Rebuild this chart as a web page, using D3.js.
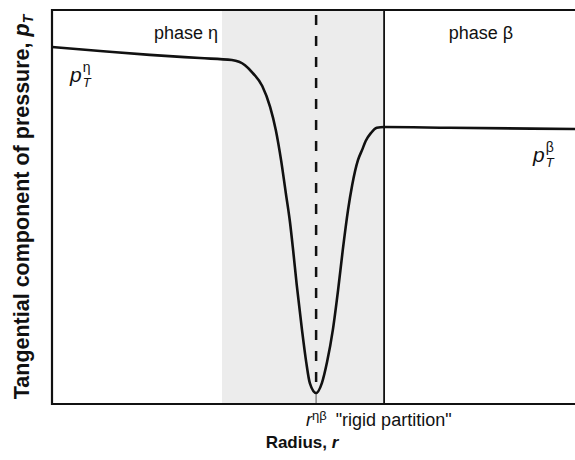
<!doctype html>
<html lang="en">
<head>
    <meta charset="utf-8">
    <title>Tangential pressure across a rigid partition</title>
    <style>
        body { margin: 0; background: #fff; }
        svg text { font-family: "Liberation Sans", Arial, sans-serif; fill: #111; }
    </style>
</head>
<body>
    <div id="chart"></div>
    <script src="https://d3js.org/d3.v7.min.js"></script>
    <script>
        // radius (arbitrary units, 0..100) and tangential pressure (0..100)
        var radius = [0, 9.2, 18.7, 28.3, 34.4, 36.9, 38.4, 40.2, 41.7, 42.8, 43.8, 44.7, 45.5, 46.1, 46.8, 47.8, 48.6, 49.3, 50.5,
            51.6, 52.6, 53.7, 54.7, 55.6, 56.6, 57.4, 58.5, 59.3, 60.0, 61.0, 62.1, 63.5, 76.1, 100];
        var pressure = [90.6, 89.6, 88.6, 87.8, 87.3, 86.0, 84.0, 80.7, 75.4, 69.5, 61.9, 53.6, 46.2, 39.1, 30.2, 18.8, 10.7, 5.3, 2.8,
            5.3, 10.7, 18.8, 28.9, 39.1, 49.2, 55.6, 61.9, 64.5, 66.8, 68.8, 70.1, 70.3, 70.1, 69.8];

        var interfaceStart = 32.5;   // start of the shaded interfacial zone
        var partition = 63.5;        // rigid partition (solid line)
        var rEtaBeta = 50.5;         // dividing surface r^ηβ (dashed)

        var width = 575, height = 460;
        var margin = {top: 10, right: 0, bottom: 56, left: 52};

        var svg = d3.select("#chart").append("svg")
            .attr("width", width)
            .attr("height", height);

        var x = d3.scaleLinear().domain([0, 100]).range([margin.left, width - margin.right]);
        var y = d3.scaleLinear().domain([0, 100]).range([height - margin.bottom, margin.top]);

        // shaded zone
        svg.append("rect")
            .attr("x", x(interfaceStart))
            .attr("y", y(100))
            .attr("width", x(partition) - x(interfaceStart))
            .attr("height", y(0) - y(100))
            .attr("fill", "#ececec");

        // dashed dividing surface
        svg.append("line")
            .attr("x1", x(rEtaBeta)).attr("x2", x(rEtaBeta))
            .attr("y1", y(100)).attr("y2", y(d3.min(pressure)) - 4)
            .attr("stroke", "#111")
            .attr("stroke-width", 2.5)
            .attr("stroke-dasharray", "10,11")
            .attr("stroke-dashoffset", -5);

        // thin stub below the minimum
        svg.append("line")
            .attr("x1", x(rEtaBeta)).attr("x2", x(rEtaBeta))
            .attr("y1", y(d3.min(pressure))).attr("y2", y(0))
            .attr("stroke", "#888")
            .attr("stroke-width", 1.5);

        // rigid partition
        svg.append("line")
            .attr("x1", x(partition)).attr("x2", x(partition))
            .attr("y1", y(100)).attr("y2", y(0))
            .attr("stroke", "#111")
            .attr("stroke-width", 1.8);

        // frame: left, top and bottom
        svg.append("path")
            .attr("d", "M" + x(100) + "," + y(100) + "H" + x(0) + "V" + y(0) + "H" + x(100))
            .attr("fill", "none")
            .attr("stroke", "#111")
            .attr("stroke-width", 2.2);

        // pressure profile
        var line = d3.line()
            .x(function(d, i) { return x(radius[i]); })
            .y(function(d) { return y(d); })
            .curve(d3.curveMonotoneX);

        svg.append("path")
            .datum(pressure)
            .attr("d", line)
            .attr("fill", "none")
            .attr("stroke", "#111")
            .attr("stroke-width", 2.6);

        // phase labels
        svg.append("text").attr("x", 186).attr("y", 39)
            .attr("text-anchor", "middle").style("font-size", "18px").text("phase η");
        svg.append("text").attr("x", 481).attr("y", 39)
            .attr("text-anchor", "middle").style("font-size", "18px").text("phase β");

        // p_T labels
        function pLabel(px, py, sup) {
            var t = svg.append("text").attr("x", px).attr("y", py).style("font-size", "21px");
            t.append("tspan").style("font-style", "italic").text("p");
            t.append("tspan").attr("dx", 1).attr("dy", 5).style("font-size", "13px").style("font-style", "italic").text("T");
            t.append("tspan").attr("dx", -8).attr("dy", -15).style("font-size", "14px").text(sup);
        }
        pLabel(70, 82, "η");
        pLabel(533, 162, "β");

        // r^ηβ "rigid partition"
        var rl = svg.append("text").attr("x", 306).attr("y", 426).style("font-size", "18px");
        rl.append("tspan").style("font-style", "italic").text("r");
        rl.append("tspan").attr("dy", -6).style("font-size", "13px").text("ηβ");
        rl.append("tspan").attr("dx", 9).attr("dy", 6).text("\"rigid partition\"");

        // axis titles
        var xt = svg.append("text").attr("x", 302).attr("y", 448)
            .attr("text-anchor", "middle").style("font-size", "17px").style("font-weight", "bold");
        xt.append("tspan").text("Radius, ");
        xt.append("tspan").style("font-style", "italic").text("r");

        var yt = svg.append("text")
            .attr("transform", "translate(29," + ((y(0) + y(100)) / 2) + ") rotate(-90)")
            .attr("text-anchor", "middle").style("font-size", "21.5px").style("font-weight", "bold");
        yt.append("tspan").text("Tangential component of pressure, ");
        yt.append("tspan").style("font-style", "italic").text("p");
        yt.append("tspan").attr("dy", 4).style("font-size", "14px").style("font-style", "italic").text("T");
    </script>
</body>
</html>
